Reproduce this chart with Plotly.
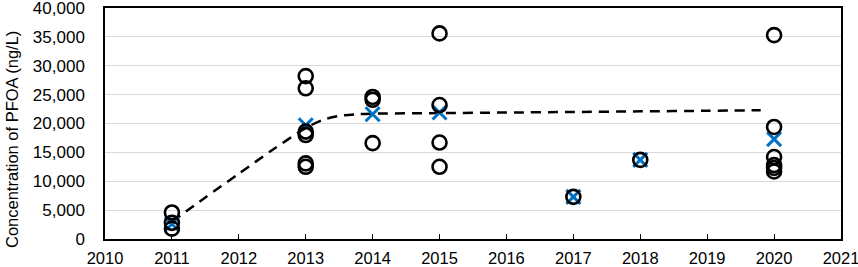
import plotly.graph_objects as go

# Observed concentrations (ng/L), one entry per sample
obs_year = [2011, 2011, 2011,
            2013, 2013, 2013, 2013, 2013, 2013,
            2014, 2014, 2014,
            2015, 2015, 2015, 2015,
            2017,
            2018,
            2020, 2020, 2020, 2020, 2020, 2020]
obs_conc = [4600, 2800, 1800,
            28200, 26100, 18600, 18000, 13100, 12500,
            24600, 24100, 16600,
            35600, 23200, 16700, 12500,
            7300,
            13700,
            35300, 19400, 14200, 12800, 12300, 11700]

# Annual means (blue crosses)
mean_year = [2011, 2013, 2014, 2015, 2017, 2018, 2020]
mean_conc = [2600, 19700, 21600, 21900, 7300, 13700, 17300]

# Fitted trend (dashed curve)
fit_year = [2011, 2011.5, 2012, 2012.5, 2013, 2013.25, 2013.5, 2013.75, 2014,
            2015, 2016, 2017, 2018, 2019, 2019.8]
fit_conc = [3000, 7200, 11300, 15400, 19200, 20600, 21300, 21600, 21700,
            21800, 21900, 22000, 22100, 22200, 22300]

x_ticks = list(range(2010, 2022))
y_ticks = list(range(0, 40001, 5000))
y_title = "Concentration of PFOA (ng/L)"

fig = go.Figure()
fig.add_trace(go.Scatter(
    x=fit_year, y=fit_conc, mode="lines",
    line=dict(color="black", width=2.5, dash="10px,7px", shape="spline", smoothing=0.8),
    hoverinfo="skip", showlegend=False))
fig.add_trace(go.Scatter(
    x=mean_year, y=mean_conc, mode="markers",
    marker=dict(symbol="x-thin", size=14, line=dict(color="#0070C0", width=3)),
    showlegend=False))
fig.add_trace(go.Scatter(
    x=obs_year, y=obs_conc, mode="markers",
    marker=dict(symbol="circle-open", size=14, color="black", line=dict(color="black", width=2.6)),
    showlegend=False))

font = "Liberation Sans, Arial, sans-serif"
L, R, T, B, W, H = 105, 17, 8, 28, 858, 267
pw, ph = W - L - R, H - T - B
fig.update_layout(
    width=W, height=H,
    margin=dict(l=L, r=R, t=T, b=B),
    paper_bgcolor="white", plot_bgcolor="white",
    font=dict(family=font, size=17, color="black"),
)
fig.update_xaxes(
    range=[2010, 2021], tickvals=x_ticks, ticktext=[str(v) for v in x_ticks],
    showline=True, linecolor="black", linewidth=1.5, mirror=True,
    ticks="inside", ticklen=5, tickcolor="black", tickwidth=1.2,
    showgrid=False, zeroline=False, tickfont=dict(size=16.5), automargin=False,
    ticklabelstandoff=3, ticklabeloverflow="allow",
)
fig.update_yaxes(
    range=[0, 40000], tickvals=y_ticks, ticktext=[f"{v:,}" for v in y_ticks],
    showline=True, linecolor="black", linewidth=1.5, mirror=True,
    ticks="", showgrid=True, gridcolor="#D9D9D9", gridwidth=1, zeroline=False,
    tickfont=dict(size=17), ticklabelstandoff=15, automargin=False,
    ticklabeloverflow="allow",
)
fig.add_annotation(
    text=y_title, textangle=-90, showarrow=False,
    xref="paper", yref="paper",
    x=(12 - L) / pw, y=(H - B - 140) / ph,
    xanchor="center", yanchor="middle",
    font=dict(family=font, size=16.5, color="black"),
)

fig.write_html("out.html", config={"displayModeBar": False},
               post_script="document.body.style.margin='0';document.body.style.overflow='hidden';")
